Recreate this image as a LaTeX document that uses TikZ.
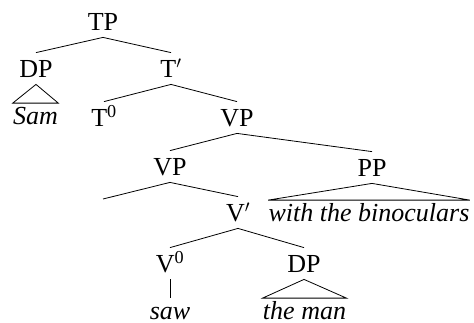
\documentclass[tikz,border=0pt]{standalone}
\usepackage{fontspec}
\setmainfont{Liberation Serif}[ItalicFont={Liberation Serif Italic}]
\usetikzlibrary{positioning,calc}

\begin{document}
\begin{tikzpicture}[x=1bp, y=-1bp, line width=0.8bp,
  every node/.style={font=\fontsize{26bp}{30bp}\selectfont, anchor=base, inner xsep=0pt},
  cat/.style={text height=17bp, text depth=0pt, inner ysep=7bp},
  leaf/.style={text height=17bp, text depth=0pt, inner ysep=3.5bp, font=\fontsize{26bp}{30bp}\selectfont\itshape}]
\useasboundingbox (0,0) rectangle (474,322);

% ================= nodos =================
\node[cat] (tp) at (103,30) {TP};
\node[cat] (dpsub) at (36,77) {DP};
\node[cat] (tbar) at (171,77) {T$'$};
\node[leaf] (sam) at (35.5,124) {Sam};
\node[cat] (tnull) at (104,126) {T\textsuperscript{0}};
\node[cat] (vptop) at (237,126) {VP};
\node[cat] (vplow) at (170,175) {VP};
\node[cat] (pp) at (372,176) {PP};
\coordinate (spec) at (103,199);
\node[leaf] (binoc) at (369,221) {with the binoculars};
\node[cat] (vbar) at (238,221) {V$'$};
\node[cat] (vnull) at (170,272) {V\textsuperscript{0}};
\node[cat] (dpobj) at (304,272) {DP};
\node[leaf] (saw) at (170,319) {saw};
\node[leaf] (man) at (304.5,319) {the man};

% ================= ramas =================
\draw (dpsub.north) -- (tp.south) -- (tbar.north);
\draw (tnull.north) -- (tbar.south) -- (vptop.north);
\draw (vplow.north) -- (vptop.south) -- (pp.north);
\draw (spec) -- (vplow.south) -- (vbar.north);
\draw (vnull.north) -- (vbar.south) -- (dpobj.north);
\draw (vnull.south) -- (saw.north);

% ================= triangulos =================
\draw (dpsub.south) -- (sam.north west) -- (sam.north east) -- cycle;
\draw (pp.south) -- (binoc.north west) -- (binoc.north east) -- cycle;
\draw (dpobj.south) -- (man.north west) -- (man.north east) -- cycle;
\end{tikzpicture}
\end{document}
